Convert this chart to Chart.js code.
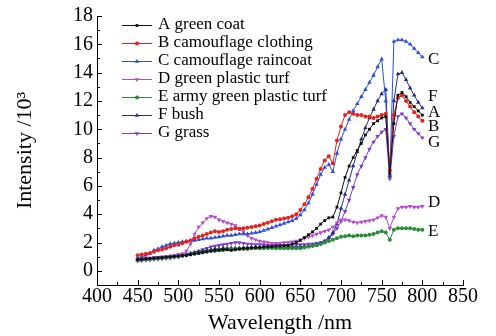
<!DOCTYPE html>
<html>
<head>
<meta charset="utf-8">
<script src="https://cdn.jsdelivr.net/npm/chart.js@4.4.0/dist/chart.umd.min.js"></script>
<style>
  html, body { margin: 0; padding: 0; background: #fff; }
</style>
</head>
<body>
<canvas id="chart1" width="496" height="336"></canvas>
<script>
// wavelength (nm) of each sample
var wavelengths = [450, 455, 460, 465, 470, 475, 480, 485, 490, 495,
    500, 505, 510, 515, 520, 525, 530, 535, 540, 545,
    550, 555, 560, 565, 570, 575, 580, 585, 590, 595,
    600, 605, 610, 615, 620, 625, 630, 635, 640, 645,
    650, 655, 660, 665, 670, 675, 680, 685, 690, 695,
    700, 705, 710, 715, 720, 725, 730, 735, 740, 745,
    750, 755, 760, 765, 770, 775, 780, 785, 790, 795, 800];

// intensity /10^3
var greenCoat = [0.8, 0.82, 0.85, 0.88, 0.9, 0.93, 0.95, 0.98, 1.0, 1.02,
    1.05, 1.08, 1.1, 1.15, 1.2, 1.25, 1.3, 1.35, 1.4, 1.45,
    1.45, 1.5, 1.5, 1.45, 1.5, 1.55, 1.6, 1.6, 1.62, 1.65,
    1.65, 1.7, 1.7, 1.72, 1.75, 1.75, 1.78, 1.8, 1.9, 2.0,
    2.15, 2.35, 2.55, 2.75, 3.0, 3.3, 3.55, 3.75, 3.8, 4.5,
    5.5, 6.6, 7.4, 8.0, 8.5, 9.0, 9.6, 10.0, 10.4, 10.6,
    10.8, 10.9, 6.9, 10.4, 12.4, 12.6, 12.3, 11.9, 11.6, 11.3, 11.0];
var camoClothing = [1.1, 1.15, 1.2, 1.25, 1.35, 1.45, 1.5, 1.6, 1.7, 1.8,
    1.85, 1.95, 2.05, 2.15, 2.3, 2.4, 2.5, 2.6, 2.7, 2.8,
    2.75, 2.8, 2.9, 2.95, 3.0, 2.95, 3.0, 3.05, 3.1, 3.15,
    3.2, 3.3, 3.4, 3.5, 3.6, 3.65, 3.7, 3.75, 3.85, 4.0,
    4.3, 4.7, 5.2, 5.8, 6.5, 7.2, 7.8, 8.1, 7.6, 9.2,
    10.2, 11.0, 11.2, 11.1, 11.0, 11.0, 10.9, 10.9, 10.8, 10.9,
    11.0, 11.1, 7.1, 11.0, 12.2, 12.4, 12.0, 11.6, 11.2, 10.9, 10.6];
var camoRaincoat = [0.9, 1.0, 1.1, 1.25, 1.45, 1.55, 1.7, 1.8, 1.9, 1.95,
    2.0, 2.05, 2.1, 2.12, 2.15, 2.2, 2.25, 2.3, 2.3, 2.35,
    2.4, 2.45, 2.5, 2.5, 2.55, 2.6, 2.6, 2.6, 2.65, 2.7,
    2.75, 2.85, 2.95, 3.05, 3.15, 3.25, 3.35, 3.45, 3.55, 3.7,
    3.95, 4.3, 4.8, 5.4, 6.1, 6.8, 7.3, 7.5, 7.0, 8.3,
    9.3, 10.0, 10.7, 11.3, 11.8, 12.3, 12.8, 13.3, 13.8, 14.4,
    14.95, 12.0, 6.8, 16.2, 16.3, 16.3, 16.2, 16.0, 15.7, 15.4, 15.1];
var plasticTurf = [0.85, 0.85, 0.9, 0.9, 0.95, 0.95, 1.0, 1.0, 1.05, 1.1,
    1.15, 1.2, 1.4, 1.9, 2.6, 3.1, 3.4, 3.7, 3.85, 3.8,
    3.6, 3.5, 3.4, 3.3, 3.2, 3.0, 2.75, 2.5, 2.3, 2.2,
    2.1, 2.05, 2.0, 1.95, 1.95, 1.95, 2.0, 2.0, 2.05, 2.1,
    2.2, 2.3, 2.4, 2.5, 2.6, 2.7, 2.8, 2.9, 3.1, 3.4,
    3.6, 3.6, 3.55, 3.45, 3.4, 3.45, 3.5, 3.55, 3.6, 3.75,
    3.9, 3.8, 3.0, 3.8, 4.4, 4.5, 4.5, 4.55, 4.5, 4.5, 4.55];
var armyTurf = [0.75, 0.78, 0.8, 0.82, 0.85, 0.88, 0.9, 0.92, 0.95, 1.0,
    1.0, 1.05, 1.1, 1.15, 1.2, 1.25, 1.3, 1.35, 1.4, 1.4,
    1.45, 1.45, 1.5, 1.5, 1.5, 1.55, 1.55, 1.55, 1.6, 1.6,
    1.6, 1.6, 1.62, 1.62, 1.6, 1.6, 1.6, 1.6, 1.6, 1.6,
    1.6, 1.65, 1.7, 1.75, 1.8, 1.9, 2.0, 2.1, 2.2, 2.3,
    2.4, 2.45, 2.5, 2.45, 2.5, 2.5, 2.5, 2.55, 2.6, 2.7,
    2.8, 2.7, 2.2, 2.9, 3.0, 3.0, 3.0, 3.0, 2.95, 2.9, 2.9];
var bush = [0.75, 0.78, 0.8, 0.85, 0.88, 0.9, 0.92, 0.95, 1.0, 1.05,
    1.1, 1.15, 1.2, 1.25, 1.3, 1.35, 1.4, 1.45, 1.5, 1.55,
    1.55, 1.6, 1.6, 1.6, 1.6, 1.6, 1.6, 1.62, 1.65, 1.65,
    1.65, 1.65, 1.65, 1.65, 1.65, 1.65, 1.65, 1.7, 1.7, 1.7,
    1.7, 1.72, 1.75, 1.8, 1.85, 1.95, 2.1, 2.35, 2.7, 3.3,
    4.4, 5.4, 6.4, 7.4, 8.4, 9.3, 10.1, 10.8, 11.4, 12.0,
    12.5, 12.8, 6.7, 12.0, 13.9, 14.0, 13.5, 12.9, 12.4, 11.9, 11.5];
var grass = [0.7, 0.72, 0.75, 0.78, 0.8, 0.82, 0.85, 0.88, 0.9, 0.95,
    1.0, 1.05, 1.1, 1.2, 1.3, 1.4, 1.5, 1.6, 1.7, 1.75,
    1.8, 1.85, 1.9, 1.95, 2.0, 2.0, 1.95, 1.9, 1.9, 1.85,
    1.85, 1.85, 1.8, 1.8, 1.8, 1.8, 1.8, 1.8, 1.85, 1.85,
    1.85, 1.85, 1.9, 1.9, 1.95, 2.0, 2.1, 2.3, 2.6, 3.0,
    3.5, 4.2, 5.0, 5.9, 6.8, 7.4, 8.0, 8.6, 9.1, 9.5,
    9.8, 10.0, 6.5, 9.5, 10.9, 11.1, 10.8, 10.4, 10.0, 9.7, 9.4];

var xTicks = [400, 450, 500, 550, 600, 650, 700, 750, 800, 850];
var yTicks = [0, 2, 4, 6, 8, 10, 12, 14, 16, 18];

var serif = '"Liberation Serif", "Times New Roman", serif';

function toPoints(vals) {
    return wavelengths.map(function(w, i) { return {x: w, y: vals[i]}; });
}

function series(label, vals, color, style, rot) {
    return {
        label: label,
        data: toPoints(vals),
        borderColor: color,
        backgroundColor: color,
        borderWidth: 1,
        pointStyle: style,
        pointRotation: rot || 0,
        pointRadius: style === 'triangle' ? 2.6 : 2,
        pointBorderWidth: 0,
        tension: 0
    };
}

// letters next to the curve ends (y in intensity units)
var endLabels = [
    {text: 'C', y: 14.95}, {text: 'F', y: 12.3}, {text: 'A', y: 11.2},
    {text: 'B', y: 10.2}, {text: 'G', y: 9.05}, {text: 'D', y: 4.85}, {text: 'E', y: 2.8}
];

var extras = {
    id: 'extras',
    afterDraw: function(chart) {
        var ctx = chart.ctx, sx = chart.scales.x, sy = chart.scales.y, a = chart.chartArea;
        ctx.save();
        // inward tick marks
        ctx.strokeStyle = '#000';
        ctx.lineWidth = 1;
        ctx.beginPath();
        for (var w = 400; w <= 850; w += 25) {
            var px = Math.round(sx.getPixelForValue(w)) + 0.5;
            ctx.moveTo(px, a.bottom);
            ctx.lineTo(px, a.bottom - (w % 50 === 0 ? 5 : 3));
        }
        for (var v = -1; v <= 18; v += 1) {
            var py = Math.round(sy.getPixelForValue(v)) + 0.5;
            ctx.moveTo(a.left, py);
            ctx.lineTo(a.left + (v % 2 === 0 ? 5 : 3), py);
        }
        ctx.stroke();

        // legend
        ctx.font = '17px ' + serif;
        ctx.textBaseline = 'middle';
        ctx.textAlign = 'left';
        chart.data.datasets.forEach(function(ds, i) {
            var ly = 25 + i * 18;
            ctx.strokeStyle = ds.borderColor;
            ctx.fillStyle = ds.borderColor;
            ctx.beginPath();
            ctx.moveTo(122, ly + 0.5);
            ctx.lineTo(152, ly + 0.5);
            ctx.stroke();
            Chart.helpers.drawPoint(ctx, {pointStyle: ds.pointStyle, rotation: ds.pointRotation,
                radius: ds.pointRadius, borderWidth: 0}, 137, ly + 0.5);
            ctx.fillStyle = '#000';
            ctx.fillText(ds.label, 158, ly);
        });

        // curve end letters
        endLabels.forEach(function(l) {
            ctx.fillText(l.text, sx.getPixelForValue(807), sy.getPixelForValue(l.y));
        });
        ctx.restore();
    }
};

var ctx = document.getElementById('chart1').getContext('2d');
var myChart = new Chart(ctx, {
    type: 'line',
    data: {
        datasets: [
            series('A green coat', greenCoat, '#111111', 'rect'),
            series('B camouflage clothing', camoClothing, '#e52222', 'circle'),
            series('C camouflage raincoat', camoRaincoat, '#2b4fd6', 'triangle'),
            series('D green plastic turf', plasticTurf, '#b54ccc', 'triangle', 180),
            series('E army green plastic turf', armyTurf, '#2a8a3a', 'circle'),
            series('F bush', bush, '#262f80', 'triangle'),
            series('G grass', grass, '#7b3fc6', 'triangle', 180)
        ]
    },
    options: {
        responsive: false,
        animation: false,
        devicePixelRatio: 1,
        layout: { padding: { top: 15, right: 33, left: 0, bottom: 0 } },
        plugins: {
            legend: { display: false },
            tooltip: { enabled: false }
        },
        scales: {
            x: {
                type: 'linear',
                min: 400,
                max: 850,
                afterBuildTicks: function(s) { s.ticks = xTicks.map(function(v) { return {value: v}; }); },
                afterFit: function(s) { s.height = 51; },
                grid: { display: false, drawTicks: false },
                border: { display: true, color: '#000', width: 1 },
                ticks: { color: '#000', font: { family: serif, size: 20 }, padding: 0, maxRotation: 0, autoSkip: false },
                title: { display: true, text: 'Wavelength /nm', color: '#000',
                    font: { family: serif, size: 22 }, padding: { top: 0, bottom: 0 } }
            },
            y: {
                min: -1,
                max: 18,
                afterBuildTicks: function(s) { s.ticks = yTicks.map(function(v) { return {value: v}; }); },
                afterFit: function(s) { s.width = 97; },
                grid: { display: false, drawTicks: false },
                border: { display: true, color: '#000', width: 1 },
                ticks: { color: '#000', font: { family: serif, size: 20 }, padding: 4, autoSkip: false },
                title: { display: true, text: 'Intensity /10³', color: '#000',
                    font: { family: serif, size: 22 }, padding: { top: 12, bottom: 0 } }
            }
        }
    },
    plugins: [extras]
});
</script>
</body>
</html>
